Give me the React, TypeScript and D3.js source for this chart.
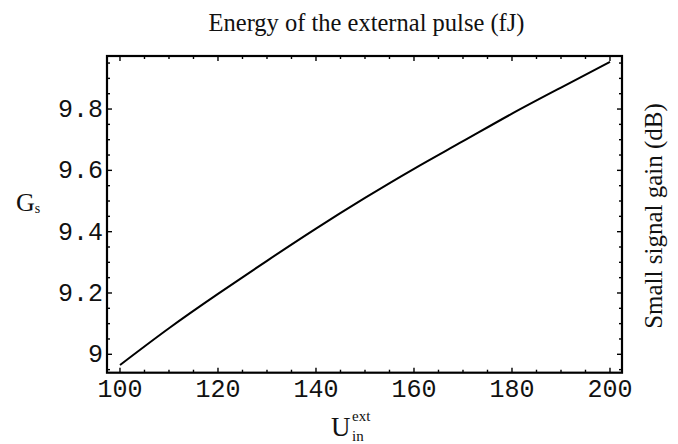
import React from "react";
import * as d3 from "d3";

// Small-signal gain versus external pulse energy
const energy = [100, 110, 120, 130, 140, 150, 160, 170, 180, 190, 200];
const gain = [8.965, 9.085, 9.197, 9.305, 9.41, 9.51, 9.605, 9.695, 9.785, 9.87, 9.954];
const xTicks = [100, 120, 140, 160, 180, 200];
const yTicks = [9, 9.2, 9.4, 9.6, 9.8];

const W = 678;
const H = 444;
const left = 107;
const right = 622;
const top = 56;
const bottom = 372.7;

export default function App() {
  const x = d3.scaleLinear().domain([97.35, 202.45]).range([left, right]);
  const y = d3.scaleLinear().domain([8.94, 9.973]).range([bottom, top]);

  const pts = energy.map((e, i) => [e, gain[i]] as [number, number]);
  const line = d3
    .line<[number, number]>()
    .x((d) => x(d[0]))
    .y((d) => y(d[1]))
    .curve(d3.curveNatural);

  const xMinor = d3.range(100, 200.01, 5).filter((v) => v % 20 !== 0);
  const yMinor = d3.range(8.95, 9.96, 0.05).filter(
    (v) => Math.abs(Math.round(v * 5) - v * 5) > 1e-6
  );

  const major = 5;
  const minor = 3;
  const tickStyle = { stroke: "#000", strokeWidth: 1.4 };
  const mono = "'Liberation Mono', 'Courier New', monospace";
  const serif = "'Liberation Serif', 'Times New Roman', serif";

  return (
    <svg
      width={W}
      height={H}
      style={{ position: "absolute", left: 0, top: 0, background: "#fff" }}
    >
      <rect x={0} y={0} width={W} height={H} fill="#fff" />
      {/* x ticks on bottom and top edges */}
      {xTicks.map((v) => (
        <g key={"xm" + v}>
          <line x1={x(v)} x2={x(v)} y1={bottom} y2={bottom - major} {...tickStyle} />
          <line x1={x(v)} x2={x(v)} y1={top} y2={top + major} {...tickStyle} />
          <text
            x={x(v)}
            y={397}
            textAnchor="middle"
            fontFamily={mono}
            fontSize={25}
            fill="#111"
          >
            {v}
          </text>
        </g>
      ))}
      {xMinor.map((v) => (
        <g key={"xn" + v}>
          <line x1={x(v)} x2={x(v)} y1={bottom} y2={bottom - minor} {...tickStyle} />
          <line x1={x(v)} x2={x(v)} y1={top} y2={top + minor} {...tickStyle} />
        </g>
      ))}
      {/* y ticks on left and right edges */}
      {yTicks.map((v) => (
        <g key={"ym" + v}>
          <line x1={left} x2={left + major} y1={y(v)} y2={y(v)} {...tickStyle} />
          <line x1={right} x2={right - major} y1={y(v)} y2={y(v)} {...tickStyle} />
          <text
            x={left - 4}
            y={y(v) + 8}
            textAnchor="end"
            fontFamily={mono}
            fontSize={25}
            fill="#111"
          >
            {d3.format("~g")(v)}
          </text>
        </g>
      ))}
      {yMinor.map((v) => (
        <g key={"yn" + v.toFixed(2)}>
          <line x1={left} x2={left + minor} y1={y(v)} y2={y(v)} {...tickStyle} />
          <line x1={right} x2={right - minor} y1={y(v)} y2={y(v)} {...tickStyle} />
        </g>
      ))}
      {/* frame */}
      <rect
        x={left}
        y={top}
        width={right - left}
        height={bottom - top}
        fill="none"
        stroke="#000"
        strokeWidth={2.2}
      />
      {/* gain curve */}
      <path d={line(pts) ?? ""} fill="none" stroke="#000" strokeWidth={2} />

      {/* title */}
      <text
        x={366.5}
        y={31}
        textAnchor="middle"
        fontFamily={serif}
        fontSize={24.5}
        fill="#111"
      >
        Energy of the external pulse (fJ)
      </text>
      {/* right axis label */}
      <text
        transform={`translate(662, 216) rotate(-90)`}
        textAnchor="middle"
        fontFamily={serif}
        fontSize={25}
        fill="#111"
      >
        Small signal gain (dB)
      </text>
      {/* left axis label G_s */}
      <text x={16} y={211} fontFamily={serif} fontSize={26} fill="#111">
        G
        <tspan fontSize={14} dy={2}>
          s
        </tspan>
      </text>
      {/* bottom axis label U_in^ext */}
      <text x={331} y={436} fontFamily={serif} fontSize={27} fill="#111">
        U
      </text>
      <text x={352} y={421} fontFamily={serif} fontSize={15} fill="#111">
        ext
      </text>
      <text x={352} y={441} fontFamily={serif} fontSize={15} fill="#111">
        in
      </text>
    </svg>
  );
}
